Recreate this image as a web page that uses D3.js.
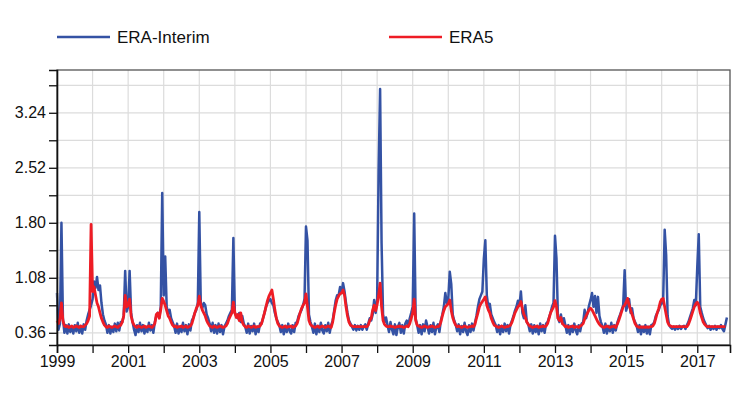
<!DOCTYPE html>
<html>
<head>
<meta charset="utf-8">
<script src="https://cdn.jsdelivr.net/npm/d3@7"></script>
<style>
  body { margin: 0; background: #fff; }
  svg { display: block; font-family: "Liberation Sans", Arial, sans-serif; }
</style>
</head>
<body>
<svg id="chart" width="754" height="401"></svg>
<script>
// semi-monthly samples, 24 per year, starting 1999-01-01
const startYear = 1999;
const stepsPerYear = 24;

const yearTicks = d3.range(1999, 2018);
const yTicks = [0.36, 0.72, 1.08, 1.44, 1.80, 2.16, 2.52, 2.88, 3.24, 3.60];
const yLabelled = [0.36, 1.08, 1.80, 2.52, 3.24];

const eraInterim = [
  0.88,0.40,0.48,1.80,0.55,0.36,0.46,0.35,0.47,0.37,0.44,0.35,0.46,0.38,0.49,0.36,0.45,0.35,0.47,0.40,0.52,0.60,0.66,0.72, // 1999
  0.80,1.03,0.95,1.09,0.92,0.98,0.75,0.60,0.52,0.47,0.36,0.46,0.35,0.44,0.37,0.48,0.38,0.49,0.39,0.50,0.50,0.58,1.17,0.64, // 2000
  0.70,1.17,0.62,0.50,0.40,0.33,0.46,0.37,0.49,0.38,0.46,0.35,0.44,0.37,0.49,0.39,0.46,0.36,0.50,0.58,0.62,0.56,0.70,2.19, // 2001
  0.85,1.36,0.70,0.62,0.66,0.55,0.50,0.45,0.36,0.48,0.35,0.44,0.37,0.49,0.38,0.46,0.34,0.47,0.39,0.52,0.56,0.62,0.66,0.75, // 2002
  1.94,0.75,0.68,0.75,0.72,0.60,0.55,0.48,0.38,0.49,0.36,0.46,0.35,0.48,0.37,0.46,0.34,0.44,0.48,0.52,0.58,0.62,0.66,1.60, // 2003
  0.62,0.58,0.55,0.62,0.50,0.58,0.48,0.44,0.36,0.48,0.35,0.45,0.38,0.48,0.34,0.44,0.37,0.48,0.48,0.55,0.62,0.70,0.75,0.78, // 2004
  0.80,0.75,0.72,0.62,0.55,0.50,0.46,0.37,0.46,0.34,0.45,0.37,0.48,0.38,0.35,0.46,0.37,0.49,0.50,0.58,0.62,0.66,0.72,0.80, // 2005
  1.75,1.57,0.60,0.50,0.44,0.36,0.48,0.34,0.45,0.37,0.49,0.39,0.35,0.46,0.38,0.49,0.36,0.46,0.52,0.65,0.78,0.85,0.85,0.96, // 2006
  0.88,1.01,0.90,0.75,0.62,0.52,0.48,0.44,0.40,0.46,0.39,0.45,0.40,0.46,0.40,0.44,0.47,0.40,0.48,0.55,0.52,0.60,0.79,0.62, // 2007
  0.79,2.50,3.55,1.53,0.60,0.50,0.56,0.46,0.37,0.50,0.40,0.34,0.47,0.33,0.44,0.49,0.36,0.46,0.35,0.48,0.52,0.45,0.55,0.62, // 2008
  0.70,1.92,0.55,0.46,0.36,0.46,0.34,0.47,0.38,0.52,0.44,0.35,0.46,0.37,0.49,0.34,0.44,0.47,0.37,0.52,0.60,0.70,0.88,0.75, // 2009
  0.80,1.16,1.00,0.60,0.52,0.47,0.38,0.47,0.34,0.45,0.37,0.49,0.38,0.33,0.46,0.37,0.48,0.39,0.49,0.58,0.70,0.80,0.85,0.90, // 2010
  1.33,1.57,0.85,0.70,0.74,0.60,0.55,0.50,0.46,0.37,0.46,0.34,0.45,0.37,0.48,0.38,0.46,0.35,0.47,0.52,0.58,0.65,0.70,0.78, // 2011
  0.72,0.90,0.62,0.55,0.72,0.50,0.47,0.38,0.47,0.35,0.46,0.37,0.45,0.34,0.48,0.38,0.46,0.36,0.48,0.50,0.56,0.62,0.70,0.75, // 2012
  1.63,1.33,0.55,0.50,0.60,0.48,0.55,0.46,0.36,0.46,0.34,0.45,0.37,0.48,0.39,0.34,0.46,0.38,0.48,0.50,0.66,0.55,0.62,0.72, // 2013
  0.79,0.88,0.70,0.84,0.62,0.83,0.58,0.50,0.45,0.36,0.48,0.35,0.45,0.38,0.49,0.36,0.46,0.39,0.49,0.55,0.60,0.66,0.72,1.18, // 2014
  0.65,0.72,0.80,0.62,0.68,0.55,0.50,0.46,0.37,0.46,0.34,0.44,0.37,0.46,0.35,0.44,0.34,0.46,0.47,0.50,0.58,0.62,0.66,0.72, // 2015
  0.74,0.80,1.71,1.38,0.58,0.46,0.43,0.41,0.44,0.40,0.44,0.41,0.45,0.41,0.44,0.45,0.41,0.46,0.50,0.56,0.62,0.68,0.79,0.72, // 2016
  1.22,1.65,0.70,0.62,0.55,0.50,0.46,0.42,0.45,0.40,0.44,0.41,0.45,0.40,0.44,0.42,0.46,0.41,0.38,0.47,0.56                 // 2017
];

const era5 = [
  0.52,0.48,0.55,0.75,0.52,0.45,0.44,0.45,0.43,0.44,0.45,0.43,0.44,0.45,0.44,0.43,0.45,0.44,0.44,0.46,0.48,0.52,0.58,1.78, // 1999
  0.90,0.96,0.85,0.75,0.70,0.62,0.55,0.50,0.46,0.44,0.43,0.45,0.44,0.43,0.44,0.45,0.44,0.43,0.45,0.46,0.50,0.58,0.85,0.70, // 2000
  0.72,0.80,0.58,0.50,0.46,0.44,0.43,0.45,0.44,0.43,0.44,0.45,0.43,0.44,0.45,0.44,0.43,0.45,0.48,0.60,0.62,0.55,0.66,0.81, // 2001
  0.77,0.72,0.65,0.58,0.55,0.50,0.46,0.44,0.45,0.43,0.44,0.44,0.45,0.43,0.44,0.45,0.43,0.44,0.45,0.48,0.55,0.62,0.68,0.72, // 2002
  0.84,0.72,0.66,0.62,0.58,0.52,0.48,0.45,0.44,0.43,0.45,0.44,0.43,0.44,0.45,0.44,0.43,0.44,0.45,0.48,0.54,0.58,0.62,0.76, // 2003
  0.62,0.56,0.60,0.52,0.62,0.50,0.46,0.44,0.43,0.45,0.44,0.43,0.44,0.45,0.43,0.44,0.44,0.45,0.48,0.55,0.62,0.70,0.78,0.84, // 2004
  0.88,0.92,0.80,0.66,0.55,0.48,0.45,0.44,0.43,0.44,0.45,0.43,0.44,0.44,0.45,0.43,0.44,0.45,0.48,0.55,0.62,0.68,0.72,0.75, // 2005
  0.87,0.70,0.52,0.47,0.45,0.44,0.43,0.44,0.45,0.43,0.44,0.45,0.44,0.43,0.44,0.45,0.44,0.43,0.50,0.62,0.72,0.80,0.84,0.87, // 2006
  0.88,0.92,0.85,0.70,0.58,0.50,0.46,0.45,0.44,0.44,0.44,0.44,0.44,0.44,0.44,0.44,0.44,0.44,0.46,0.52,0.55,0.66,0.72,0.65, // 2007
  0.73,0.85,1.01,0.70,0.52,0.47,0.45,0.44,0.44,0.45,0.44,0.44,0.43,0.44,0.44,0.45,0.44,0.44,0.43,0.44,0.45,0.44,0.48,0.55, // 2008
  0.62,0.80,0.52,0.46,0.45,0.44,0.43,0.44,0.45,0.44,0.43,0.44,0.44,0.45,0.44,0.43,0.44,0.44,0.45,0.50,0.58,0.65,0.70,0.72, // 2009
  0.74,0.79,0.65,0.56,0.50,0.46,0.44,0.45,0.44,0.43,0.44,0.45,0.44,0.43,0.44,0.44,0.45,0.44,0.47,0.55,0.62,0.70,0.74,0.77, // 2010
  0.80,0.83,0.72,0.66,0.62,0.55,0.50,0.46,0.45,0.44,0.43,0.44,0.45,0.44,0.43,0.44,0.44,0.45,0.46,0.50,0.56,0.62,0.66,0.70, // 2011
  0.72,0.77,0.68,0.60,0.56,0.50,0.47,0.45,0.44,0.43,0.44,0.44,0.45,0.43,0.44,0.44,0.45,0.44,0.45,0.48,0.55,0.62,0.66,0.70, // 2012
  0.78,0.70,0.55,0.52,0.56,0.48,0.46,0.44,0.45,0.43,0.44,0.44,0.45,0.43,0.44,0.44,0.43,0.45,0.46,0.48,0.54,0.58,0.62,0.66, // 2013
  0.68,0.66,0.62,0.58,0.54,0.50,0.47,0.45,0.44,0.43,0.44,0.45,0.44,0.43,0.44,0.44,0.45,0.43,0.47,0.52,0.58,0.64,0.70,0.72, // 2014
  0.76,0.81,0.72,0.66,0.60,0.54,0.48,0.45,0.44,0.43,0.44,0.43,0.44,0.43,0.44,0.43,0.44,0.44,0.45,0.48,0.55,0.62,0.68,0.76, // 2015
  0.80,0.81,0.70,0.60,0.50,0.46,0.45,0.44,0.44,0.44,0.44,0.44,0.44,0.44,0.44,0.44,0.44,0.44,0.47,0.52,0.58,0.64,0.70,0.74, // 2016
  0.76,0.72,0.62,0.56,0.50,0.47,0.45,0.44,0.44,0.44,0.44,0.44,0.44,0.44,0.44,0.44,0.44,0.44,0.44,0.44                      // 2017
];

const series = [
  { name: 'ERA-Interim', values: eraInterim, color: '#3452a4', width: 2.5 },
  { name: 'ERA5', values: era5, color: '#ee1c25', width: 2.8 }
];

const svg = d3.select('#chart');
const plot = { left: 57, right: 730, top: 70, bottom: 345 };

const x = d3.scaleLinear().domain([1999, 2017.92]).range([plot.left, plot.right]);
const y = d3.scaleLinear().domain([0.2, 3.8]).range([plot.bottom, plot.top]);

// grid
const grid = svg.append('g').attr('class', 'grid');
grid.selectAll('line.v').data(yearTicks.slice(1)).join('line')
  .attr('x1', d => x(d)).attr('x2', d => x(d))
  .attr('y1', plot.top).attr('y2', plot.bottom)
  .attr('stroke', '#dcdcdc').attr('stroke-width', 1.2);
grid.selectAll('line.h').data(yTicks).join('line')
  .attr('x1', plot.left).attr('x2', plot.right)
  .attr('y1', d => y(d)).attr('y2', d => y(d))
  .attr('stroke', '#dcdcdc').attr('stroke-width', 1.2);

// lines
const line = d3.line()
  .x((d, i) => x(startYear + i / stepsPerYear))
  .y(d => y(d));

svg.append('g').selectAll('path').data(series).join('path')
  .attr('d', d => line(d.values))
  .attr('fill', 'none')
  .attr('stroke', d => d.color)
  .attr('stroke-width', d => d.width)
  .attr('stroke-linejoin', 'round');

// frame (top + right)
svg.append('rect')
  .attr('x', plot.left).attr('y', plot.top)
  .attr('width', plot.right - plot.left).attr('height', plot.bottom - plot.top)
  .attr('fill', 'none').attr('stroke', '#555').attr('stroke-width', 1.3);

// axes
const xAxis = d3.axisBottom(x)
  .tickValues(yearTicks)
  .tickSize(8).tickPadding(3)
  .tickFormat(d => d % 2 === 1 ? d : '');
const gx = svg.append('g').attr('transform', `translate(0,${plot.bottom})`).call(xAxis);

const yAxis = d3.axisLeft(y)
  .tickValues(yTicks)
  .tickSize(8).tickPadding(3)
  .tickFormat(d => yLabelled.includes(d) ? d.toFixed(2) : '');
const gy = svg.append('g').attr('transform', `translate(${plot.left},0)`).call(yAxis);

[gx, gy].forEach(g => {
  g.select('.domain').attr('stroke', '#111').attr('stroke-width', 1.6);
  g.selectAll('.tick line').attr('stroke', '#111').attr('stroke-width', 1.3);
  g.selectAll('.tick text').attr('fill', '#111').style('font-size', '16px')
    .style('font-family', '"Liberation Sans", Arial, sans-serif');
});

// legend
const legendItems = [
  { name: 'ERA-Interim', color: series[0].color, x: 57 },
  { name: 'ERA5', color: series[1].color, x: 389 }
];
const lg = svg.append('g').selectAll('g').data(legendItems).join('g')
  .attr('transform', d => `translate(${d.x},37)`);
lg.append('line').attr('x1', 0).attr('x2', 53)
  .attr('stroke', d => d.color).attr('stroke-width', 2.6);
lg.append('text').attr('x', 60).attr('dy', '0.35em')
  .style('font-size', '17px').attr('fill', '#111')
  .text(d => d.name);
</script>
</body>
</html>
